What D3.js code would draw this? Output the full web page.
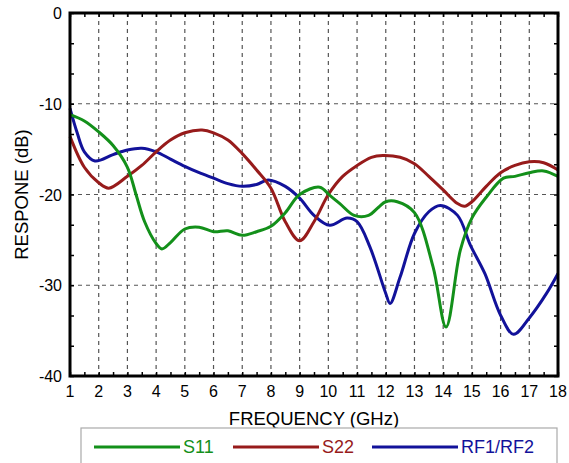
<!DOCTYPE html>
<html>
<head>
<meta charset="utf-8">
<script src="https://cdn.jsdelivr.net/npm/d3@7"></script>
<style>
  body { margin: 0; background: #fff; }
  svg { display: block; font-family: Arial, "Liberation Sans", sans-serif; }
</style>
</head>
<body>
<div id="chart"></div>
<script>
// values
var freqS11 = [1, 1.5, 2, 2.5, 3, 3.3, 3.6, 4, 4.2, 4.5, 5, 5.5, 6, 6.5, 7, 7.5, 8, 8.5, 9, 9.7, 10.05, 10.4, 10.9, 11.4, 11.75, 12, 12.4, 13, 13.65, 14.1, 14.6, 15, 15.5, 16.1, 16.5, 17, 17.5, 18];
var s11 = [-11.2, -11.9, -13.1, -14.6, -17.0, -20.0, -23.0, -25.4, -26.0, -25.3, -23.8, -23.6, -24.1, -24.0, -24.5, -24.1, -23.5, -22.0, -20.0, -19.2, -20.1, -21.0, -22.3, -22.3, -21.4, -20.8, -20.8, -22.0, -28.0, -34.6, -26.1, -22.6, -20.3, -18.2, -18.0, -17.6, -17.4, -18.0];

var freqS22 = [1, 1.5, 2, 2.35, 3, 3.5, 4, 4.5, 5, 5.6, 6, 6.5, 7, 7.5, 8, 8.5, 9, 9.5, 10, 10.5, 11, 11.5, 11.9, 12.5, 13, 13.5, 14, 14.5, 14.75, 15, 15.5, 16, 16.5, 17, 17.5, 18];
var s22 = [-13.6, -17.0, -18.7, -19.3, -18.0, -16.8, -15.3, -14.0, -13.2, -12.9, -13.2, -14.0, -15.5, -17.3, -19.3, -23.0, -25.1, -23.0, -20.0, -18.0, -16.8, -15.9, -15.7, -15.9, -16.6, -18.0, -19.5, -21.0, -21.3, -20.8, -19.1, -17.6, -16.8, -16.4, -16.5, -17.3];

var freqRF = [1, 1.25, 1.5, 1.87, 2.5, 3, 3.5, 4, 4.5, 5, 5.5, 6, 6.5, 7, 7.5, 7.9, 8.5, 9, 9.5, 10.05, 10.65, 11, 11.45, 12, 12.15, 12.5, 13, 13.5, 13.9, 14.5, 14.95, 15.45, 16, 16.45, 17, 17.6, 18];
var rf = [-10.5, -13.2, -15.3, -16.3, -15.6, -15.1, -14.9, -15.3, -16.1, -16.9, -17.6, -18.2, -18.8, -19.1, -18.9, -18.4, -19.1, -20.4, -22.3, -23.4, -22.6, -23.0, -25.8, -30.9, -32.0, -29.1, -24.3, -21.9, -21.2, -22.3, -25.6, -28.7, -33.3, -35.4, -33.6, -30.9, -28.7];

var seriesNames = ["S11", "S22", "RF1/RF2"];
var seriesColors = ["#13901a", "#971b1b", "#12129a"];
var xTicks = d3.range(1, 19);
var yTicks = [0, -10, -20, -30, -40];

var width = 569, height = 463;
var margin = { top: 13, left: 70, right: 11, bottom: 87 };

var svg = d3.select("#chart").append("svg")
    .attr("width", width)
    .attr("height", height);

var x = d3.scaleLinear().domain([1, 18]).range([margin.left, width - margin.right]);
var y = d3.scaleLinear().domain([-40, 0]).range([height - margin.bottom, margin.top]);

// dashed grid
var grid = svg.append("g").attr("stroke", "#555").attr("stroke-width", 1.2).attr("stroke-dasharray", "4,4");
grid.selectAll(".vg").data(xTicks.slice(1, -1)).enter().append("line")
    .attr("x1", function (d) { return x(d); }).attr("x2", function (d) { return x(d); })
    .attr("y1", y(0)).attr("y2", y(-40));
grid.selectAll(".hg").data(yTicks.slice(1, -1)).enter().append("line")
    .attr("y1", function (d) { return y(d); }).attr("y2", function (d) { return y(d); })
    .attr("x1", x(1)).attr("x2", x(18));

// curves
var allSeries = [
    { f: freqS11, v: s11 },
    { f: freqS22, v: s22 },
    { f: freqRF, v: rf }
];
var line = d3.line()
    .x(function (d) { return x(d[0]); })
    .y(function (d) { return y(d[1]); })
    .curve(d3.curveCatmullRom.alpha(0.5));

var plot = svg.append("g");
// draw RF first so S11 / S22 sit on top similar to reference
[2, 1, 0].forEach(function (i) {
    var s = allSeries[i];
    plot.append("path")
        .datum(s.f.map(function (f, j) { return [f, s.v[j]]; }))
        .attr("fill", "none")
        .attr("stroke", seriesColors[i])
        .attr("stroke-width", 3)
        .attr("stroke-linejoin", "round")
        .attr("d", line);
});

// axes with inward ticks
var minorX = d3.range(1, 18.01, 0.5);
var minorY = d3.range(0, 13).map(function (i) { return -i * 10 / 3; });

function tickStyle(g) {
    g.select(".domain").remove();
    g.selectAll("line").attr("stroke-width", 1.5);
}
svg.append("g")
    .attr("transform", "translate(0," + y(-40) + ")")
    .call(d3.axisBottom(x).tickValues(minorX).tickSize(-4).tickFormat(""))
    .call(tickStyle);
svg.append("g")
    .attr("transform", "translate(0," + y(0) + ")")
    .call(d3.axisTop(x).tickValues(minorX).tickSize(-4).tickFormat(""))
    .call(tickStyle);
svg.append("g")
    .attr("transform", "translate(" + x(1) + ",0)")
    .call(d3.axisLeft(y).tickValues(minorY).tickSize(-4).tickFormat(""))
    .call(tickStyle);
svg.append("g")
    .attr("transform", "translate(" + x(18) + ",0)")
    .call(d3.axisRight(y).tickValues(minorY).tickSize(-4).tickFormat(""))
    .call(tickStyle);

// frame
svg.append("rect")
    .attr("x", x(1)).attr("y", y(0))
    .attr("width", x(18) - x(1)).attr("height", y(-40) - y(0))
    .attr("fill", "none").attr("stroke", "#000").attr("stroke-width", 3);

// tick labels
svg.append("g").selectAll("text").data(xTicks).enter().append("text")
    .attr("x", function (d) { return x(d); })
    .attr("y", y(-40) + 21)
    .attr("text-anchor", "middle")
    .attr("font-size", 16)
    .text(function (d) { return d; });
svg.append("g").selectAll("text").data(yTicks).enter().append("text")
    .attr("x", x(1) - 8)
    .attr("y", function (d) { return y(d) + 6; })
    .attr("text-anchor", "end")
    .attr("font-size", 16)
    .text(function (d) { return d; });

// axis titles
svg.append("text")
    .attr("x", (x(1) + x(18)) / 2)
    .attr("y", 425)
    .attr("text-anchor", "middle")
    .attr("font-size", 18.5)
    .text("FREQUENCY (GHz)");
svg.append("text")
    .attr("transform", "translate(28," + (y(-20)) + ") rotate(-90)")
    .attr("text-anchor", "middle")
    .attr("font-size", 18.5)
    .text("RESPONE (dB)");

// legend
var legend = svg.append("g");
legend.append("rect")
    .attr("x", 81).attr("y", 428)
    .attr("width", 476).attr("height", 50)
    .attr("fill", "#fff").attr("stroke", "#aaa").attr("stroke-width", 1.2);
var legX = [94, 233, 372];
seriesNames.forEach(function (name, i) {
    legend.append("line")
        .attr("x1", legX[i]).attr("x2", legX[i] + 86)
        .attr("y1", 447).attr("y2", 447)
        .attr("stroke", seriesColors[i]).attr("stroke-width", 3);
    legend.append("text")
        .attr("x", legX[i] + 89).attr("y", 453)
        .attr("font-size", 18)
        .attr("fill", seriesColors[i])
        .text(name);
});
</script>
</body>
</html>
